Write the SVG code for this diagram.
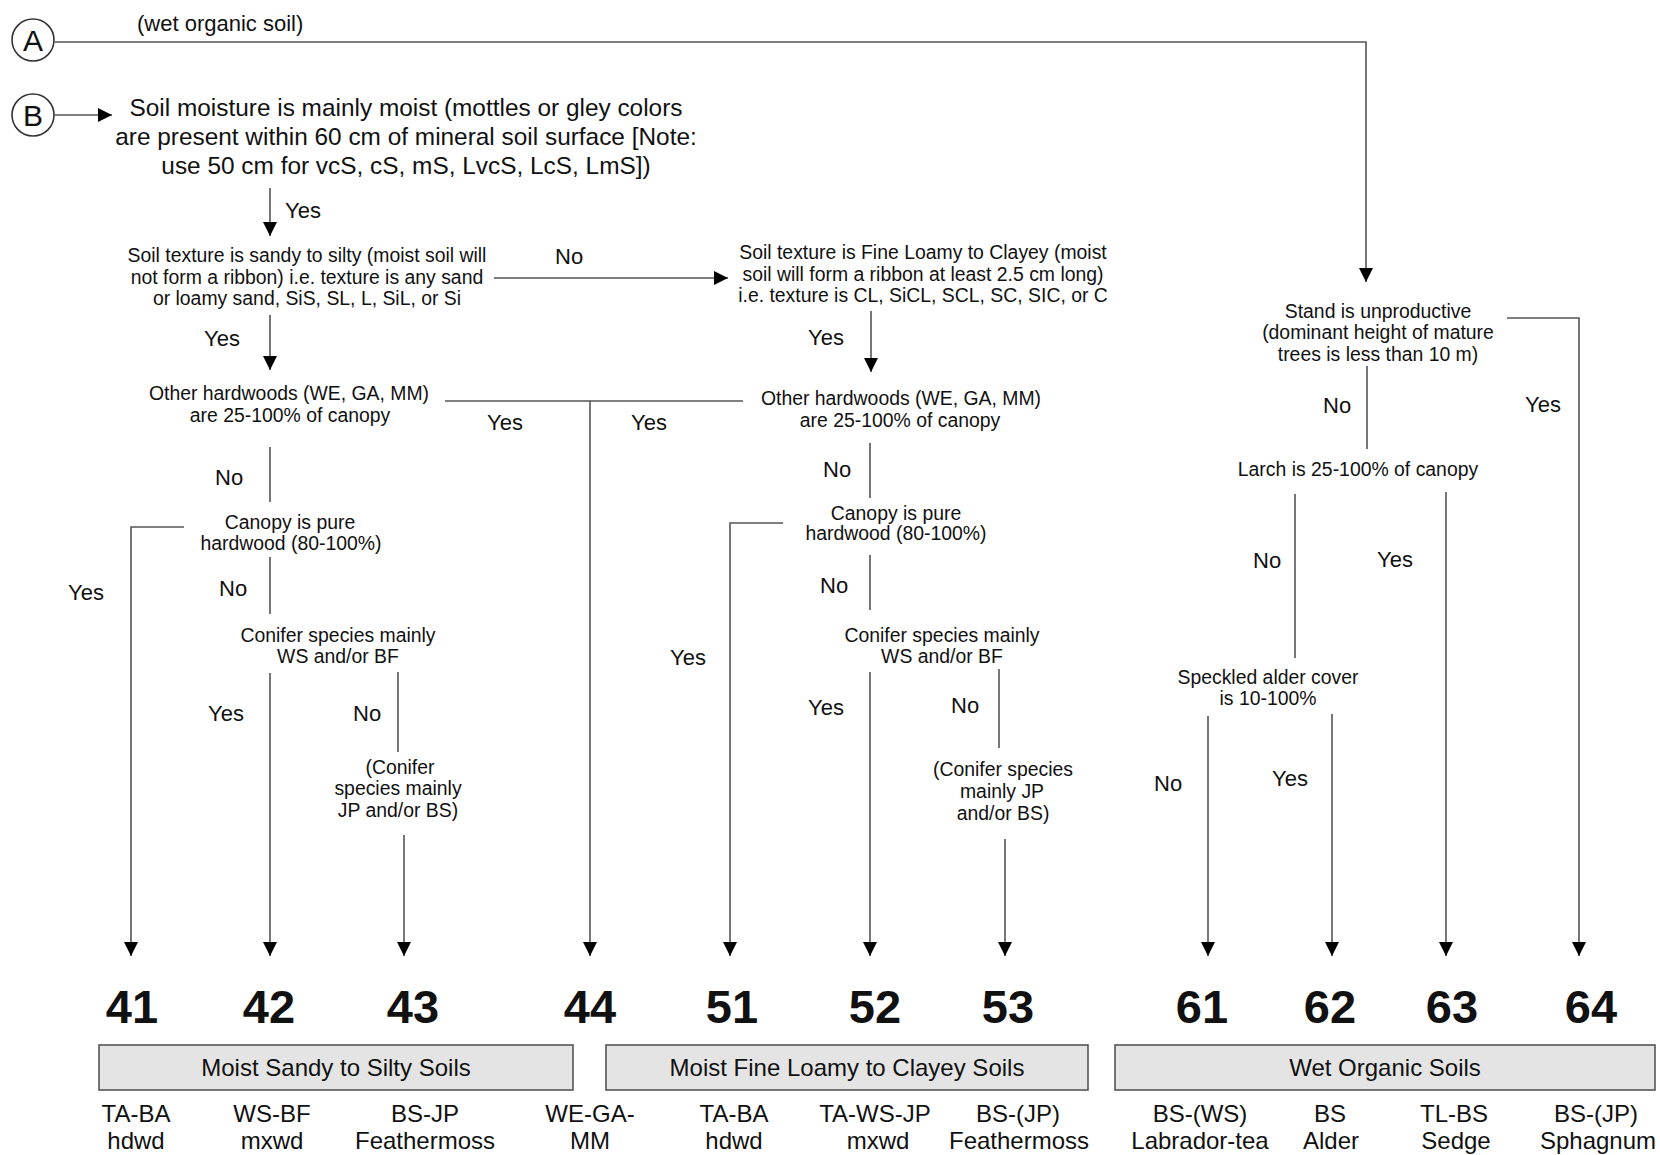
<svg xmlns="http://www.w3.org/2000/svg" width="1660" height="1155" viewBox="0 0 1660 1155">
<style>
text{font-family:"Liberation Sans",Arial,sans-serif;fill:#111}
.n{font-size:19.4px;text-anchor:middle}
.b{font-size:24.4px;text-anchor:middle}
.w{font-size:22px}
.yn{font-size:22px}
.num{font-size:47px;font-weight:bold;text-anchor:middle}
.bt{font-size:24px;text-anchor:middle}
.lab{font-size:24px;text-anchor:middle}
.c{stroke:#555;stroke-width:1.6;fill:none}
.a{marker-end:url(#ah)}
.circ{fill:#fff;stroke:#333;stroke-width:1.6}
.box{fill:#e4e4e4;stroke:#555;stroke-width:1.6}
.cl{font-size:30px;text-anchor:middle}
</style>
<defs>
<marker id="ah" markerUnits="userSpaceOnUse" viewBox="0 0 14 14" markerWidth="14" markerHeight="14" refX="14" refY="7" orient="auto">
<path d="M0,0 L14,7 L0,14 Z" fill="#000"/>
</marker>
</defs>
<rect width="1660" height="1155" fill="#fff"/>

<g id="connectors">
<path class="c a" d="M55,42 H1366 V282"/>
<path class="c a" d="M55,115 H112"/>
<path class="c a" d="M270,188 V236"/>
<path class="c a" d="M494,278 H728"/>
<path class="c a" d="M270,315 V370"/>
<path class="c a" d="M871,311 V372"/>
<path class="c" d="M445,401 H743"/>
<path class="c a" d="M590,401 V956"/>
<path class="c" d="M270,447 V502"/>
<path class="c a" d="M184,527 H131 V956"/>
<path class="c" d="M270,557 V614"/>
<path class="c a" d="M270,673 V956"/>
<path class="c" d="M398,672 V752"/>
<path class="c a" d="M404,835 V956"/>
<path class="c" d="M870,443 V498"/>
<path class="c a" d="M783,523 H730 V956"/>
<path class="c" d="M870,555 V610"/>
<path class="c a" d="M870,672 V956"/>
<path class="c" d="M999,669 V748"/>
<path class="c a" d="M1005,839 V956"/>
<path class="c a" d="M1507,318 H1579 V956"/>
<path class="c" d="M1367,366 V449"/>
<path class="c" d="M1295,494 V658"/>
<path class="c a" d="M1446,492 V956"/>
<path class="c a" d="M1208,716 V956"/>
<path class="c a" d="M1332,714 V956"/>
<g id="edge-labels">
<text class="w" x="137" y="31">(wet organic soil)</text>
<text class="yn" x="285" y="218">Yes</text>
<text class="yn" x="555" y="264">No</text>
<text class="yn" x="204" y="346">Yes</text>
<text class="yn" x="808" y="345">Yes</text>
<text class="yn" x="487" y="430">Yes</text>
<text class="yn" x="631" y="430">Yes</text>
<text class="yn" x="215" y="485">No</text>
<text class="yn" x="823" y="477">No</text>
<text class="yn" x="68" y="600">Yes</text>
<text class="yn" x="219" y="596">No</text>
<text class="yn" x="820" y="593">No</text>
<text class="yn" x="670" y="665">Yes</text>
<text class="yn" x="208" y="721">Yes</text>
<text class="yn" x="353" y="721">No</text>
<text class="yn" x="808" y="715">Yes</text>
<text class="yn" x="951" y="713">No</text>
<text class="yn" x="1323" y="413">No</text>
<text class="yn" x="1525" y="412">Yes</text>
<text class="yn" x="1253" y="568">No</text>
<text class="yn" x="1377" y="567">Yes</text>
<text class="yn" x="1154" y="791">No</text>
<text class="yn" x="1272" y="786">Yes</text>
</g>
</g>

<g id="start-A"><circle class="circ" cx="33" cy="40" r="21"/><text class="cl" x="33" y="51">A</text></g>
<g id="start-B"><circle class="circ" cx="33" cy="115" r="21"/><text class="cl" x="33" y="126">B</text></g>

<g id="q-moist">
<text class="b" x="406" y="116">Soil moisture is mainly moist (mottles or gley colors</text>
<text class="b" x="406" y="145">are present within 60 cm of mineral soil surface [Note:</text>
<text class="b" x="406" y="174">use 50 cm for vcS, cS, mS, LvcS, LcS, LmS])</text>
</g>
<g id="q-sandy">
<text class="n" x="307" y="262">Soil texture is sandy to silty (moist soil will</text>
<text class="n" x="307" y="284">not form a ribbon) i.e. texture is any sand</text>
<text class="n" x="307" y="305">or loamy sand, SiS, SL, L, SiL, or Si</text>
</g>
<g id="q-fine">
<text class="n" x="923" y="259">Soil texture is Fine Loamy to Clayey (moist</text>
<text class="n" x="923" y="281">soil will form a ribbon at least 2.5 cm long)</text>
<text class="n" x="923" y="302">i.e. texture is CL, SiCL, SCL, SC, SIC, or C</text>
</g>
<g id="q-hw1">
<text class="n" x="289" y="400">Other hardwoods (WE, GA, MM)</text>
<text class="n" x="290" y="422">are 25-100% of canopy</text>
</g>
<g id="q-hw2">
<text class="n" x="901" y="405">Other hardwoods (WE, GA, MM)</text>
<text class="n" x="900" y="427">are 25-100% of canopy</text>
</g>
<g id="q-pure1">
<text class="n" x="290" y="529">Canopy is pure</text>
<text class="n" x="291" y="550">hardwood (80-100%)</text>
</g>
<g id="q-pure2">
<text class="n" x="896" y="520">Canopy is pure</text>
<text class="n" x="896" y="540">hardwood (80-100%)</text>
</g>
<g id="q-con1">
<text class="n" x="338" y="642">Conifer species mainly</text>
<text class="n" x="338" y="663">WS and/or BF</text>
</g>
<g id="q-con2">
<text class="n" x="942" y="642">Conifer species mainly</text>
<text class="n" x="942" y="663">WS and/or BF</text>
</g>
<g id="n-jpbs1">
<text class="n" x="400" y="774">(Conifer</text>
<text class="n" x="398" y="795">species mainly</text>
<text class="n" x="398" y="817">JP and/or BS)</text>
</g>
<g id="n-jpbs2">
<text class="n" x="1003" y="776">(Conifer species</text>
<text class="n" x="1002" y="798">mainly JP</text>
<text class="n" x="1003" y="820">and/or BS)</text>
</g>
<g id="q-stand">
<text class="n" x="1378" y="318">Stand is unproductive</text>
<text class="n" x="1378" y="339">(dominant height of mature</text>
<text class="n" x="1378" y="361">trees is less than 10 m)</text>
</g>
<g id="q-larch"><text class="n" x="1358" y="476">Larch is 25-100% of canopy</text></g>
<g id="q-alder">
<text class="n" x="1268" y="684">Speckled alder cover</text>
<text class="n" x="1268" y="705">is 10-100%</text>
</g>

<g id="t41"><text class="num" x="132" y="1023">41</text><text class="lab" x="136" y="1122">TA-BA</text><text class="lab" x="136" y="1149">hdwd</text></g>
<g id="t42"><text class="num" x="269" y="1023">42</text><text class="lab" x="272" y="1122">WS-BF</text><text class="lab" x="272" y="1149">mxwd</text></g>
<g id="t43"><text class="num" x="413" y="1023">43</text><text class="lab" x="425" y="1122">BS-JP</text><text class="lab" x="425" y="1149">Feathermoss</text></g>
<g id="t44"><text class="num" x="590" y="1023">44</text><text class="lab" x="590" y="1122">WE-GA-</text><text class="lab" x="590" y="1149">MM</text></g>
<g id="t51"><text class="num" x="732" y="1023">51</text><text class="lab" x="734" y="1122">TA-BA</text><text class="lab" x="734" y="1149">hdwd</text></g>
<g id="t52"><text class="num" x="875" y="1023">52</text><text class="lab" x="875" y="1122">TA-WS-JP</text><text class="lab" x="878" y="1149">mxwd</text></g>
<g id="t53"><text class="num" x="1008" y="1023">53</text><text class="lab" x="1018" y="1122">BS-(JP)</text><text class="lab" x="1019" y="1149">Feathermoss</text></g>
<g id="t61"><text class="num" x="1202" y="1023">61</text><text class="lab" x="1200" y="1122">BS-(WS)</text><text class="lab" x="1200" y="1149">Labrador-tea</text></g>
<g id="t62"><text class="num" x="1330" y="1023">62</text><text class="lab" x="1330" y="1122">BS</text><text class="lab" x="1331" y="1149">Alder</text></g>
<g id="t63"><text class="num" x="1452" y="1023">63</text><text class="lab" x="1454" y="1122">TL-BS</text><text class="lab" x="1456" y="1149">Sedge</text></g>
<g id="t64"><text class="num" x="1591" y="1023">64</text><text class="lab" x="1596" y="1122">BS-(JP)</text><text class="lab" x="1598" y="1149">Sphagnum</text></g>

<g id="group-sandy"><rect class="box" x="99" y="1045" width="474" height="45"/><text class="bt" x="336" y="1076">Moist Sandy to Silty Soils</text></g>
<g id="group-fine"><rect class="box" x="606" y="1045" width="482" height="45"/><text class="bt" x="847" y="1076">Moist Fine Loamy to Clayey Soils</text></g>
<g id="group-wet"><rect class="box" x="1115" y="1045" width="540" height="45"/><text class="bt" x="1385" y="1076">Wet Organic Soils</text></g>
</svg>
